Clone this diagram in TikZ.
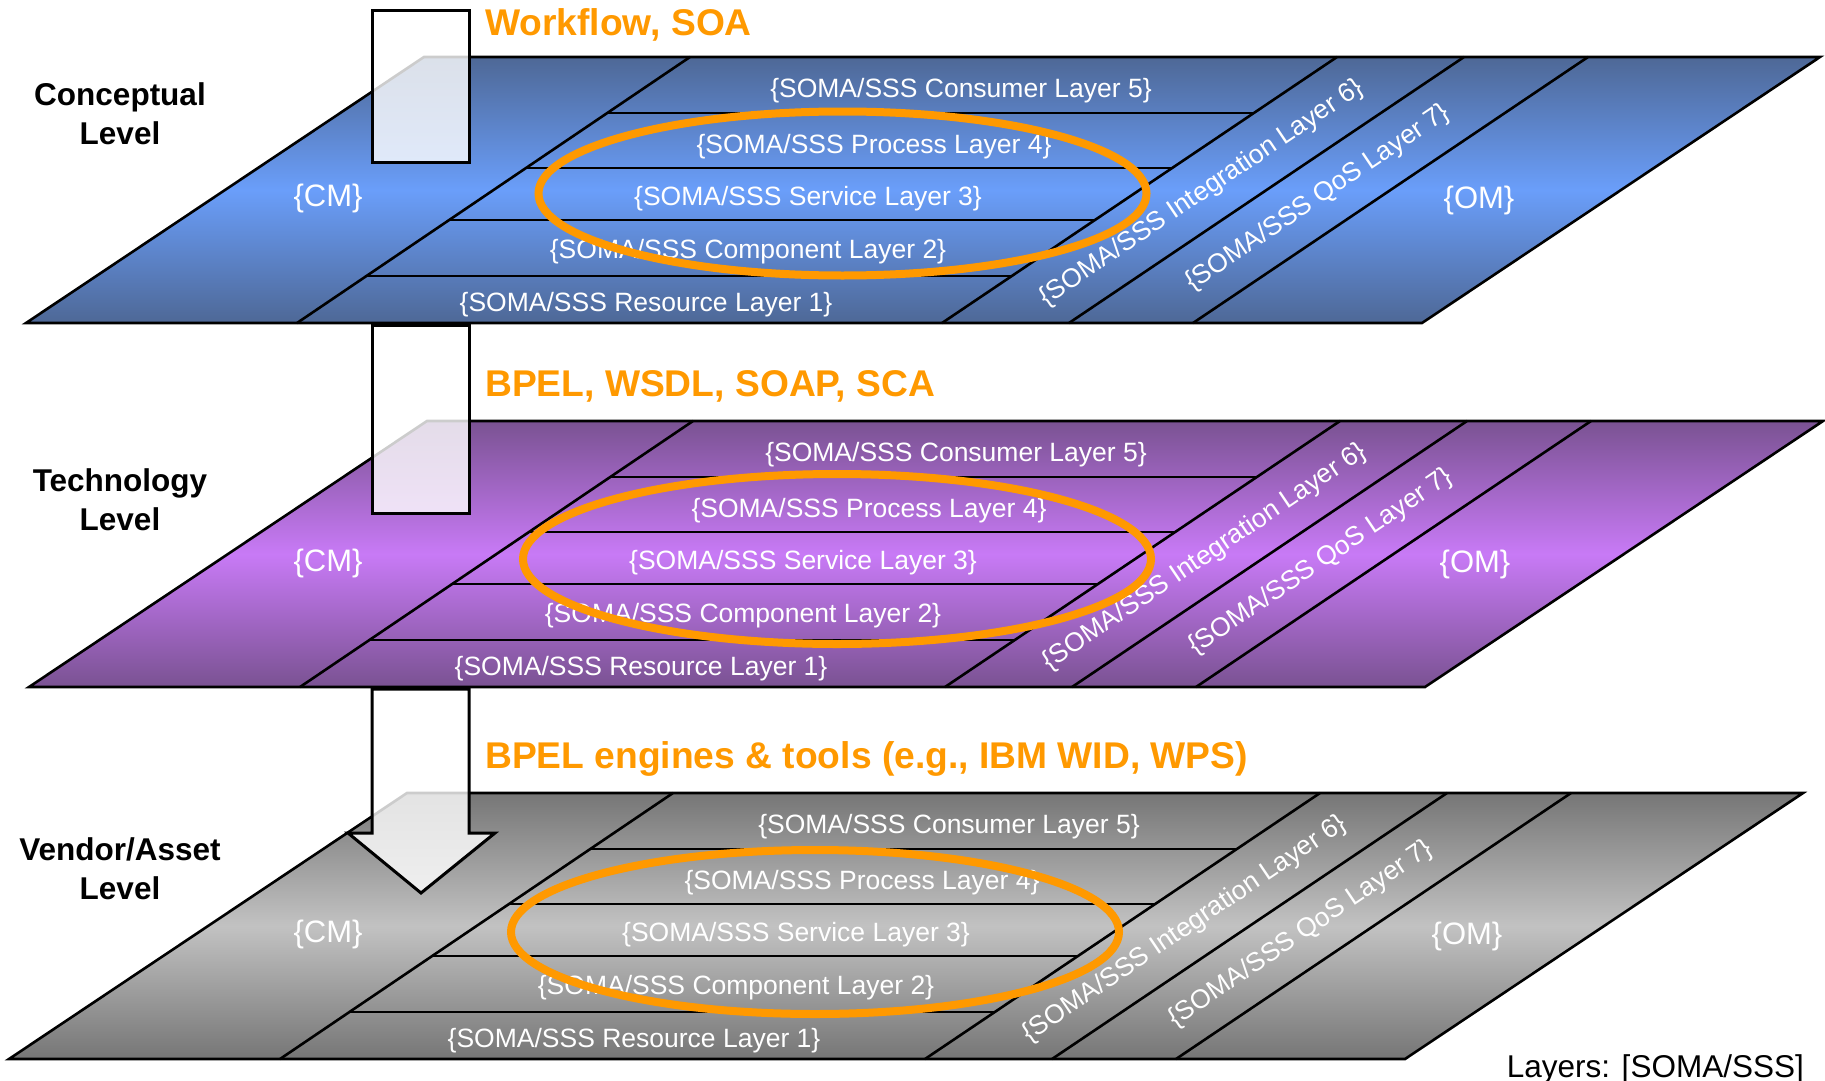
\documentclass[tikz,border=0pt]{standalone}
\usepackage{fontspec}
\setmainfont{Liberation Sans}
\usetikzlibrary{calc}

\definecolor{headorange}{HTML}{FF9900}
\definecolor{blueDark}{HTML}{4E6896}
\definecolor{blueLight}{HTML}{6A9EFA}
\definecolor{purpleDark}{HTML}{7A5292}
\definecolor{purpleLight}{HTML}{C87AF6}
\definecolor{greyDark}{HTML}{767676}
\definecolor{greyLight}{HTML}{C2C2C2}

\tikzset{
  plane/.style={draw=black, line width=2.6pt, line join=miter},
  divider/.style={draw=black, line width=2.6pt},
  rowline/.style={draw=black, line width=2.6pt},
  layertext/.style={text=white, font=\fontsize{26.5}{30}\selectfont, inner sep=0pt},
  modeltext/.style={text=white, font=\fontsize{31}{36}\selectfont, inner sep=0pt},
  slanttext/.style={layertext, rotate=34},
  levelname/.style={font=\bfseries\fontsize{31.5}{38.5}\selectfont, align=center, anchor=base, inner sep=0pt},
  heading/.style={text=headorange, font=\bfseries\fontsize{37.2}{44}\selectfont, anchor=base west, inner sep=0pt},
  focus/.style={draw=headorange, line width=8pt},
  passage/.style={draw=black, line width=3pt, fill=white, fill opacity=0.8, line join=miter},
}

% One skewed level plane: #1 name prefix, #2 x shift, #3 top edge,
% #4 dark colour, #5 light colour, #6 x shift of the row labels, #7 x shift of {OM}
\newcommand\drawplane[7]{%
  \begin{scope}[shift={(#2,#3)}]
    \path[plane, top color=#4, bottom color=#4, middle color=#5]
      (26,266) -- (1422,266) -- (1820,0) -- (424,0) -- cycle;
    \coordinate (#1cmb) at (297,266);  \coordinate (#1cmt) at (690,0);
    \coordinate (#1inb) at (942,266);  \coordinate (#1int) at (1337,0);
    \coordinate (#1qob) at (1069,266); \coordinate (#1qot) at (1464,0);
    \coordinate (#1omb) at (1193,266); \coordinate (#1omt) at (1588,0);
    \draw[divider] (#1cmb) -- (#1cmt);
    \draw[divider] (#1inb) -- (#1int);
    \draw[divider] (#1qob) -- (#1qot);
    \draw[divider] (#1omb) -- (#1omt);
    \draw[rowline] ($(#1cmb)!0.7895!(#1cmt)$) -- ($(#1inb)!0.7895!(#1int)$);
    \draw[rowline] ($(#1cmb)!0.5827!(#1cmt)$) -- ($(#1inb)!0.5827!(#1int)$);
    \draw[rowline] ($(#1cmb)!0.3872!(#1cmt)$) -- ($(#1inb)!0.3872!(#1int)$);
    \draw[rowline] ($(#1cmb)!0.1767!(#1cmt)$) -- ($(#1inb)!0.1767!(#1int)$);
    \begin{scope}[xshift=#6]
      \node[layertext] (#1L5) at (961,34)  {\{SOMA/SSS Consumer Layer 5\}};
      \node[layertext] (#1L4) at (874,90)  {\{SOMA/SSS Process Layer 4\}};
      \node[layertext] (#1L3) at (808,142) {\{SOMA/SSS Service Layer 3\}};
      \node[layertext] (#1L2) at (748,195) {\{SOMA/SSS Component Layer 2\}};
      \node[layertext] (#1L1) at (646,248) {\{SOMA/SSS Resource Layer 1\}};
    \end{scope}
    \node[slanttext] (#1L6) at (1202,136) {\{SOMA/SSS Integration Layer 6\}};
    \node[slanttext] (#1L7) at (1318,141) {\{SOMA/SSS QoS Layer 7\}};
    \node[modeltext] (#1OM) at ([xshift=#7]1479,143) {\{OM\}};
  \end{scope}}

\begin{document}
\begin{tikzpicture}[x=1pt, y=-1pt]
  \useasboundingbox (0,0) rectangle (1825,1081);
  \fill[white] (0,0) rectangle (1825,1081);

  % conceptual level
  \drawplane{c}{0}{57}{blueDark}{blueLight}{0pt}{0pt}
  \node[modeltext] (cCM) at (328,198) {\{CM\}};
  \draw[passage] (372,11) rectangle (469,162);
  \draw[focus] (842.5,193.5) ellipse [x radius=304pt, y radius=82pt];

  % technology level
  \drawplane{t}{3}{421}{purpleDark}{purpleLight}{-8pt}{-7pt}
  \node[modeltext] (tCM) at (328,563) {\{CM\}};
  \draw[passage] (372,325) rectangle (469,513);
  \draw[focus] (837,559) ellipse [x radius=314pt, y radius=85pt];

  % vendor / asset level
  \drawplane{v}{-17}{793}{greyDark}{greyLight}{5pt}{5pt}
  \node[modeltext] (vCM) at (328,934) {\{CM\}};
  \draw[passage] (372,689) -- (372,833) -- (348,833) -- (421,893)
    -- (495,833) -- (469,833) -- (469,689) -- cycle;
  \draw[focus] (815,932) ellipse [x radius=304pt, y radius=82pt];

  % headings
  \node[heading] (h1) at (485,36)  {Workflow, SOA};
  \node[heading] (h2) at (485,396) {BPEL, WSDL, SOAP, SCA};
  \node[heading] (h3) at (485,768) {BPEL engines \& tools (e.g., IBM WID, WPS)};

  % level names
  \node[levelname] (lc) at (120,144) {Conceptual\\Level};
  \node[levelname] (lt) at (120,530) {Technology\\Level};
  \node[levelname] (lv) at (120,899) {Vendor/Asset\\Level};

  \node[anchor=base east, font=\fontsize{31.5}{36}\selectfont, inner sep=0pt] (legend)
    at (1804,1077) {Layers: [SOMA/SSS]};
\end{tikzpicture}
\end{document}
